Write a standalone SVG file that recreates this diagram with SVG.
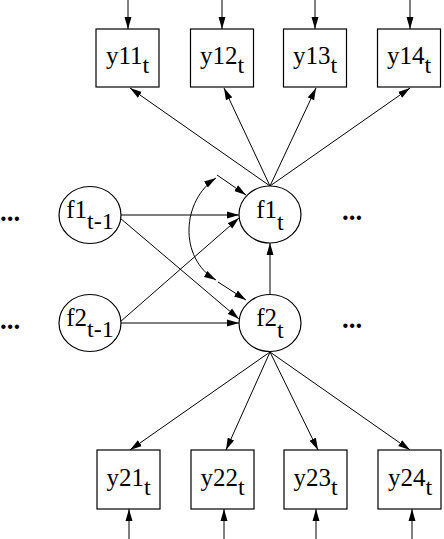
<svg xmlns="http://www.w3.org/2000/svg" width="444" height="539" viewBox="0 0 444 539">
<style>
.box{fill:#fff;stroke:#000;stroke-width:1.2}
.ell{fill:#fff;stroke:#000;stroke-width:1.2}
.lbl{font-family:"Liberation Serif","Times New Roman",serif;font-size:25px;fill:#000;text-anchor:middle}
.sub{font-size:24px}
.dots{font-family:"Liberation Serif",serif;font-size:27px;font-weight:bold;fill:#000}
.arr{fill:none;stroke:#000;stroke-width:1;marker-end:url(#ah)}
.dbl{fill:none;stroke:#000;stroke-width:1;marker-end:url(#ah);marker-start:url(#ah)}
</style>
<defs>
<marker id="ah" markerUnits="userSpaceOnUse" markerWidth="13" markerHeight="8" refX="12" refY="4" orient="auto-start-reverse" viewBox="0 0 13 8">
<path d="M0,0.5 L12,4 L0,7.5 z" fill="#000"/>
</marker>
</defs>
<g id="connectors">
<line class="arr" x1="128" y1="0" x2="128" y2="29"/>
<line class="arr" x1="222" y1="0" x2="222" y2="29"/>
<line class="arr" x1="315" y1="0" x2="315" y2="29"/>
<line class="arr" x1="410" y1="0" x2="410" y2="29"/>
<line class="arr" x1="270" y1="186" x2="130" y2="88"/>
<line class="arr" x1="270" y1="186" x2="224" y2="88"/>
<line class="arr" x1="270" y1="186" x2="316" y2="88"/>
<line class="arr" x1="270" y1="186" x2="410" y2="88"/>
<line class="arr" x1="121" y1="215" x2="239" y2="215"/>
<line class="arr" x1="121" y1="323" x2="239" y2="323"/>
<line class="arr" x1="120" y1="218" x2="239" y2="319"/>
<line class="arr" x1="120" y1="322" x2="239" y2="218"/>
<line class="arr" x1="270" y1="294" x2="270" y2="243"/>
<line class="arr" x1="217" y1="175" x2="246" y2="195"/>
<line class="arr" x1="218" y1="282" x2="246" y2="300"/>
<path class="dbl" d="M216,178 C182,200 178,258 216,280"/>
<line class="arr" x1="270" y1="352" x2="130" y2="450"/>
<line class="arr" x1="270" y1="352" x2="226" y2="450"/>
<line class="arr" x1="270" y1="352" x2="318" y2="450"/>
<line class="arr" x1="270" y1="352" x2="410" y2="450"/>
<line class="arr" x1="129" y1="539" x2="129" y2="509"/>
<line class="arr" x1="224" y1="539" x2="224" y2="509"/>
<line class="arr" x1="316" y1="539" x2="316" y2="509"/>
<line class="arr" x1="412" y1="539" x2="412" y2="509"/>
</g>
<g id="y11"><rect class="box" x="96" y="29" width="63" height="58"/><text class="lbl" x="127.5" y="64">y11<tspan class="sub" dy="9">t</tspan></text></g>
<g id="y12"><rect class="box" x="190.5" y="29" width="63" height="58"/><text class="lbl" x="222" y="64">y12<tspan class="sub" dy="9">t</tspan></text></g>
<g id="y13"><rect class="box" x="283.5" y="29" width="63" height="58"/><text class="lbl" x="315" y="64">y13<tspan class="sub" dy="9">t</tspan></text></g>
<g id="y14"><rect class="box" x="377.5" y="29" width="63" height="58"/><text class="lbl" x="409" y="64">y14<tspan class="sub" dy="9">t</tspan></text></g>
<g id="f1t1"><ellipse class="ell" cx="90" cy="215" rx="31" ry="28.5"/><text class="lbl" x="90" y="218">f1<tspan class="sub" dy="11">t-1</tspan></text></g>
<g id="f2t1"><ellipse class="ell" cx="90" cy="323" rx="31" ry="28.5"/><text class="lbl" x="90" y="325.5">f2<tspan class="sub" dy="11">t-1</tspan></text></g>
<g id="f1t"><ellipse class="ell" cx="270" cy="214.5" rx="31" ry="28.5"/><text class="lbl" x="270" y="218">f1<tspan class="sub" dy="12">t</tspan></text></g>
<g id="f2t"><ellipse class="ell" cx="270" cy="323" rx="31" ry="28.5"/><text class="lbl" x="270" y="326">f2<tspan class="sub" dy="12">t</tspan></text></g>
<g id="dots">
<text class="dots" x="0" y="221">...</text>
<text class="dots" x="0" y="329">...</text>
<text class="dots" x="342" y="220">...</text>
<text class="dots" x="342" y="328">...</text>
</g>
<g id="y21"><rect class="box" x="97" y="450" width="63" height="59"/><text class="lbl" x="128.5" y="486">y21<tspan class="sub" dy="9">t</tspan></text></g>
<g id="y22"><rect class="box" x="191" y="450" width="63" height="59"/><text class="lbl" x="222.5" y="486">y22<tspan class="sub" dy="9">t</tspan></text></g>
<g id="y23"><rect class="box" x="284" y="450" width="63" height="59"/><text class="lbl" x="315.5" y="486">y23<tspan class="sub" dy="9">t</tspan></text></g>
<g id="y24"><rect class="box" x="378" y="450" width="63" height="59"/><text class="lbl" x="410" y="486">y24<tspan class="sub" dy="9">t</tspan></text></g>
</svg>
